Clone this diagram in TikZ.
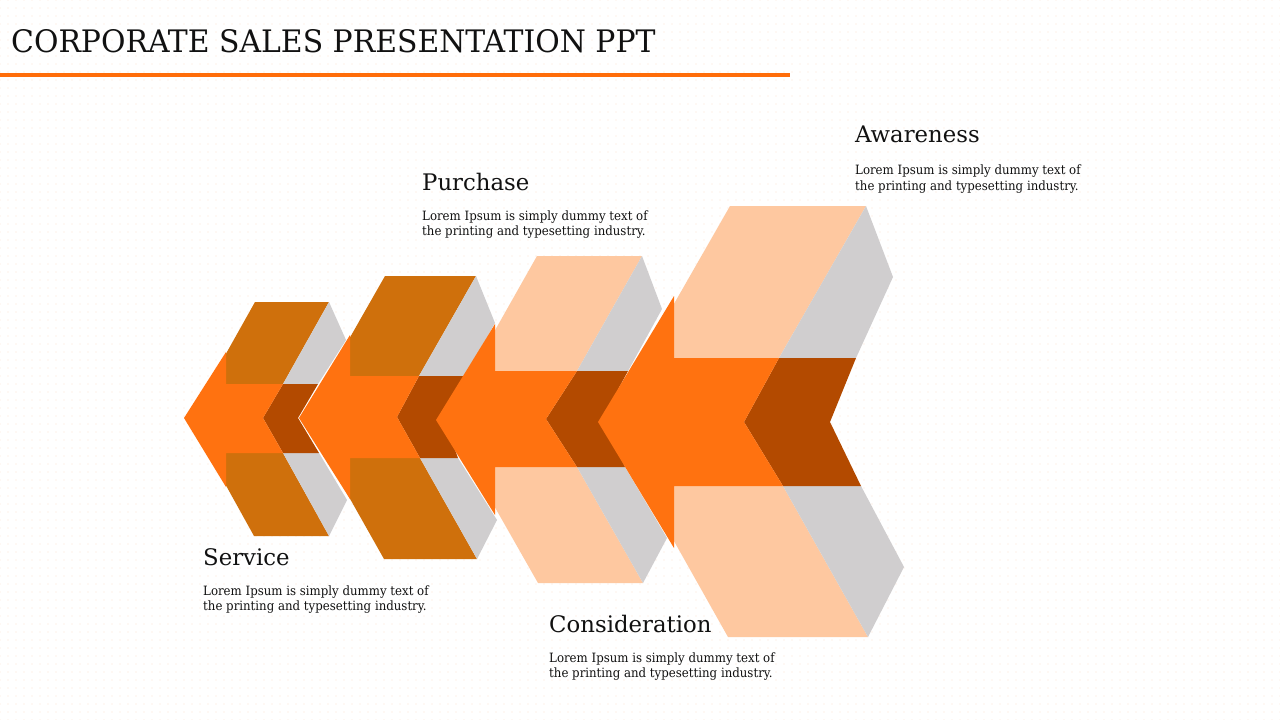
\documentclass[tikz,border=0pt]{standalone}
\usepackage{fontspec}
\usepackage{graphicx}
\setmainfont{DejaVu Serif}
\usetikzlibrary{patterns.meta}
\definecolor{orng}{HTML}{FF7210}
\definecolor{darko}{HTML}{B34A00}
\definecolor{brwn}{HTML}{CF700C}
\definecolor{peach}{HTML}{FEC8A0}
\definecolor{greyf}{HTML}{D0CECF}
\definecolor{linec}{HTML}{FF6D0A}
\definecolor{dotc}{HTML}{FBE4D2}
\definecolor{txt}{HTML}{111111}
\newcommand\myttl[1]{\scalebox{0.963}[1]{#1}}
\newcommand\mybody[1]{\scalebox{0.92}[1]{#1}}
\begin{document}
\begin{tikzpicture}[x=1pt,y=-1pt,
  titletxt/.style={font=\fontsize{31}{36}\selectfont, inner sep=0, anchor=base west, text=txt},
  headtxt/.style={font=\fontsize{22.8}{27}\selectfont, inner sep=0, anchor=base west, text=txt},
  bodytxt/.style={font=\fontsize{12.8}{15}\selectfont, inner sep=0, anchor=base west, text=txt}]
\useasboundingbox (0,0) rectangle (1280,720);
\fill[white] (0,0) rectangle (1280,720);
\fill[pattern={Dots[distance=8pt,radius=0.55pt]}, pattern color=dotc] (0,0) rectangle (1280,720);

% title
\node[titletxt] (title) at (11,52.7) {\myttl{CORPORATE SALES PRESENTATION PPT}};
\coordinate (l1) at (0,74.7);
\coordinate (l2) at (790,74.7);
\draw[linec, line width=4pt] (l1) -- (l2);

% unit 1
\fill[brwn] (255,302) -- (329,302) -- (283,384) -- (209,384) -- cycle;
\fill[greyf] (329,302) -- (346,340) -- (318,384) -- (283,384) -- cycle;
\fill[brwn] (208,453) -- (283,453) -- (329,536) -- (254,536) -- cycle;
\fill[greyf] (283,453) -- (319,453) -- (347,500) -- (329,536) -- cycle;
\fill[darko] (283,384) -- (318,384) -- (298,418) -- (319,453) -- (283,453) -- (263,418) -- cycle;
\fill[orng] (184,418) -- (226,352) -- (226,384) -- (283,384) -- (263,418) -- (283,453) -- (226,453) -- (226,487) -- cycle;

% unit 2
\fill[brwn] (385,276) -- (476,276) -- (419,376) -- (328,376) -- cycle;
\fill[greyf] (476,276) -- (495,323) -- (465,376) -- (419,376) -- cycle;
\fill[brwn] (327,458) -- (420,458) -- (477,559) -- (384,559) -- cycle;
\fill[greyf] (420,458) -- (458,458) -- (497,520) -- (477,559) -- cycle;
\fill[darko] (419,376) -- (465,376) -- (443,417) -- (458,458) -- (420,458) -- (397,417) -- cycle;
\fill[orng] (299,418) -- (350,335) -- (350,376) -- (419,376) -- (397,417) -- (420,458) -- (350,458) -- (350,499) -- cycle;

% unit 3
\fill[peach] (537,256) -- (642,256) -- (577,371) -- (472,371) -- cycle;
\fill[greyf] (642,256) -- (662,309) -- (628,371) -- (577,371) -- cycle;
\fill[peach] (472,467) -- (577,467) -- (643,583) -- (538,583) -- cycle;
\fill[greyf] (577,467) -- (625,467) -- (667,538) -- (643,583) -- cycle;
\fill[darko] (577,371) -- (628,371) -- (602,419) -- (625,467) -- (577,467) -- (546,419) -- cycle;
\fill[orng] (436,420) -- (495,324) -- (495,371) -- (577,371) -- (546,419) -- (577,467) -- (495,467) -- (495,515) -- cycle;

% unit 4
\fill[peach] (730,206) -- (866,206) -- (779,358) -- (643,358) -- cycle;
\fill[greyf] (866,206) -- (893,277) -- (856,358) -- (779,358) -- cycle;
\fill[peach] (643,486) -- (783,486) -- (868,637) -- (728,637) -- cycle;
\fill[greyf] (783,486) -- (861,486) -- (904,567) -- (868,637) -- cycle;
\fill[darko] (779,358) -- (856,358) -- (830,422) -- (861,486) -- (783,486) -- (744,422) -- cycle;
\fill[orng] (598,422) -- (674,296) -- (674,358) -- (779,358) -- (744,422) -- (783,486) -- (674,486) -- (674,548) -- cycle;

% labels
\node[headtxt] (awh) at (855,142.3) {Awareness};
\node[bodytxt] (awb1) at (855,174) {\mybody{Lorem Ipsum is simply dummy text of}};
\node[bodytxt] (awb2) at (855,190) {\mybody{the printing and typesetting industry.}};

\node[headtxt] (puh) at (422,190.7) {Purchase};
\node[bodytxt] (pub1) at (422,220) {\mybody{Lorem Ipsum is simply dummy text of}};
\node[bodytxt] (pub2) at (422,235.7) {\mybody{the printing and typesetting industry.}};

\node[headtxt] (seh) at (203,565.7) {Service};
\node[bodytxt] (seb1) at (203,595) {\mybody{Lorem Ipsum is simply dummy text of}};
\node[bodytxt] (seb2) at (203,610.7) {\mybody{the printing and typesetting industry.}};

\node[headtxt] (coh) at (549,632.3) {Consideration};
\node[bodytxt] (cob1) at (549,662.3) {\mybody{Lorem Ipsum is simply dummy text of}};
\node[bodytxt] (cob2) at (549,677.7) {\mybody{the printing and typesetting industry.}};
\end{tikzpicture}
\end{document}
